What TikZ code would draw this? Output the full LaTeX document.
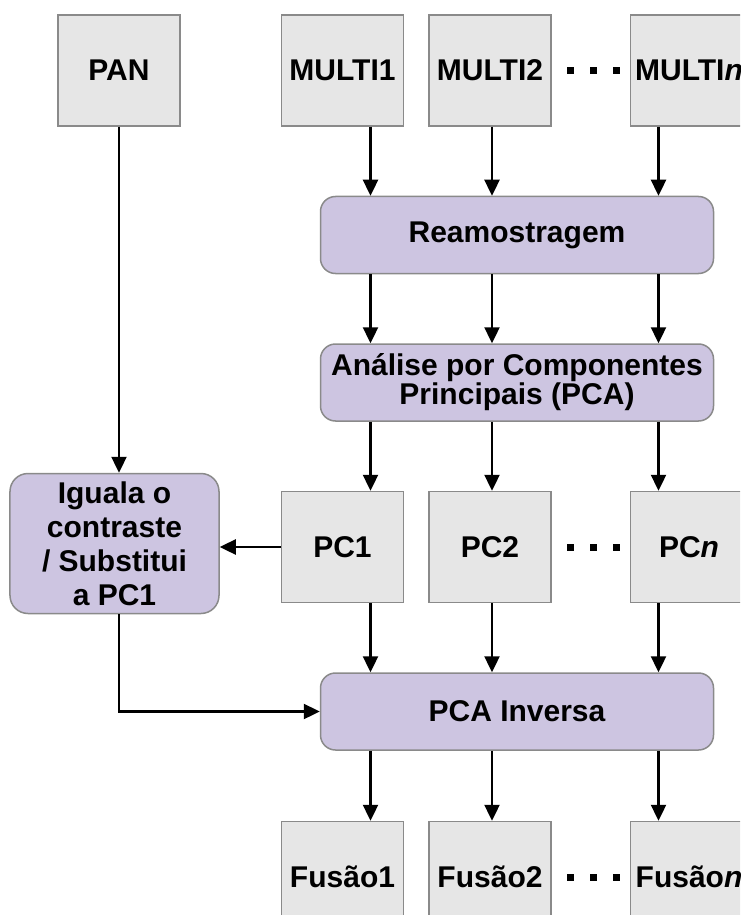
\documentclass[tikz,border=0pt]{standalone}
\usepackage{fontspec}
\setmainfont{Liberation Sans}
\usetikzlibrary{
    arrows.meta,
    positioning
}
\definecolor{boxgray}{RGB}{230,230,230}
\definecolor{edgegray}{RGB}{138,138,138}
\definecolor{lavender}{RGB}{205,197,225}
\newcommand{\dotrow}{\rule{3.5pt}{3.5pt}\hspace{8pt}\rule{3.5pt}{3.5pt}\hspace{8pt}\rule{3.5pt}{3.5pt}}
\tikzset{
  img/.style    = {draw=edgegray, fill=boxgray, line width=0.75pt,
                   minimum width=61pt, minimum height=55.5pt, inner sep=1pt,
                   font=\bfseries\fontsize{15}{17}\selectfont},
  lastimg/.style = {img, minimum width=58.5pt},
  proc/.style   = {draw=edgegray, fill=lavender, rounded corners=7.5pt,
                   line width=0.75pt, minimum width=196.5pt,
                   minimum height=38.5pt, align=center, inner sep=1pt,
                   font=\bfseries\fontsize{15}{14.5}\selectfont},
  side/.style   = {proc, rounded corners=9pt, minimum width=104.5pt,
                   minimum height=70pt,
                   font=\bfseries\fontsize{15}{17}\selectfont},
  dots/.style   = {inner sep=0pt},
  arr/.style    = {-{Triangle[length=8pt,width=7.5pt]}, line width=1.2pt}
}

\begin{document}
\begin{tikzpicture}
  \useasboundingbox (-59.5pt,35.25pt) rectangle (310.5pt,-422.25pt);
  \clip (-59.5pt,35.25pt) rectangle (310.5pt,-422.25pt);
  % input images
  \node[img] (pan) at (0,0) {PAN};
  \node[img, right=50pt of pan] (m1) {MULTI1};
  \node[img, right=12pt of m1] (m2) {MULTI2};
  \node[lastimg, right=39pt of m2] (mn) {MULTI\textit{n}};
  \node[dots, right=7.5pt of m2] (md) {\dotrow};
  % processing
  \node[proc, below right=34.5pt and 19.5pt of m1.south west] (reamo) {Reamostragem};
  \node[proc, below=34.5pt of reamo] (pca) {Análise por Componentes\\Principais (PCA)};
  % components
  \node[img, anchor=north, yshift=-34.5pt] (pc1) at (pca.south -| m1) {PC1};
  \node[img, right=12pt of pc1] (pc2) {PC2};
  \node[lastimg, right=39pt of pc2] (pcn) {PC\textit{n}};
  \node[dots, right=7.5pt of pc2] (pcd) {\dotrow};
  \node[side, left=30.5pt of pc1, yshift=1.75pt] (iguala) {Iguala o\\contraste\\/ Substitui\\a PC1};
  \node[proc, anchor=north, yshift=-34.5pt] (inv) at (pc1.south -| reamo) {PCA Inversa};
  % results
  \node[img, anchor=north, yshift=-35pt] (fus1) at (inv.south -| m1) {Fusão1};
  \node[img, right=12pt of fus1] (fus2) {Fusão2};
  \node[lastimg, right=39pt of fus2] (fusn) {Fusão\textit{n}};
  \node[dots, right=7.5pt of fus2] (fusd) {\dotrow};
  % arrow columns
  \coordinate (c1) at ([xshift=14pt]m1.south);
  \coordinate (c2) at ([xshift=1pt]m2.south);
  \coordinate (c3) at ([xshift=-15.25pt]mn.south);
  \foreach \src/\col in {m1/c1, m2/c2, mn/c3}
    \draw[arr] (\src.south -| \col) -- (reamo.north -| \col);
  \foreach \col in {c1, c2, c3}
    \draw[arr] (reamo.south -| \col) -- (pca.north -| \col);
  \foreach \dst/\col in {pc1/c1, pc2/c2, pcn/c3}
    \draw[arr] (pca.south -| \col) -- (\dst.north -| \col);
  \foreach \src/\col in {pc1/c1, pc2/c2, pcn/c3}
    \draw[arr] (\src.south -| \col) -- (inv.north -| \col);
  \foreach \dst/\col in {fus1/c1, fus2/c2, fusn/c3}
    \draw[arr] (inv.south -| \col) -- (\dst.north -| \col);
  % PAN branch
  \draw[arr] (pan.south) -- (iguala.north -| pan.south);
  \draw[arr] (pc1.west) -- (iguala.east |- pc1.west);
  \draw[arr] (iguala.south -| pan.south) |- (inv.west);
\end{tikzpicture}
\end{document}
